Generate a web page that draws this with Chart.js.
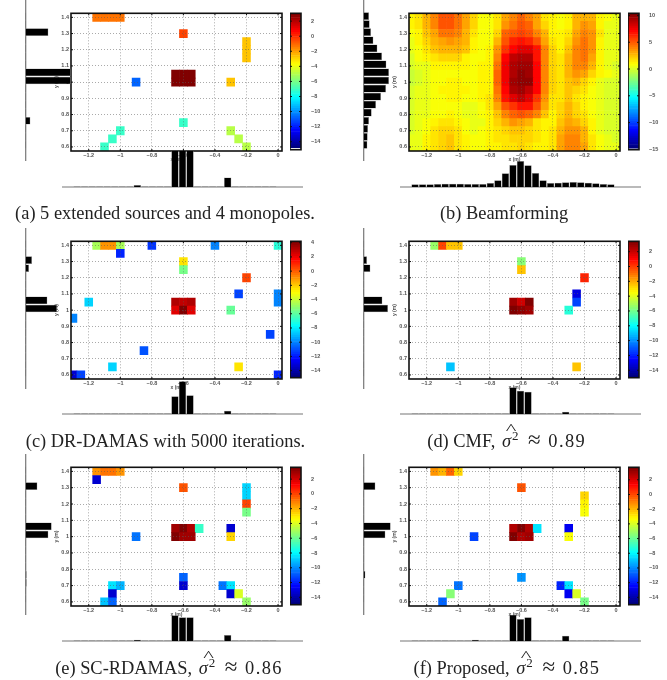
<!DOCTYPE html>
<html lang="en">
<head>
  <meta charset="UTF-8">
  <title>Source maps</title>
  <script src="https://cdn.jsdelivr.net/npm/chart.js@4/dist/chart.umd.js"></script>
  <style>
    * { margin: 0; padding: 0; box-sizing: border-box; }
    body { background: #fff; width: 667px; height: 680px; position: relative; overflow: hidden; }
    canvas { position: absolute; }
    .cap {
      position: absolute;
      transform: translate(-50%, -50%);
      white-space: nowrap;
      font-family: "Liberation Serif", serif;
      font-size: 18.4px;
      color: #222;
    }
    .cap sup { font-size: 13px; vertical-align: super; line-height: 0; margin-left: 1px; }
    .hat { position: relative; display: inline-block; margin: 0 2px; }
    .hat::before { content: "^"; position: absolute; left: 6px; top: -10px; font-size: 15px; transform: scaleX(1.5); }
    .approx { font-size: 23px; line-height: 0; margin: 0 3px; }
    .num { letter-spacing: 1.4px; }
  </style>
</head>
<body>
  <script>
    const xBins = [-1.3,-1.25,-1.2,-1.15,-1.1,-1.05,-1,-0.95,-0.9,-0.85,-0.8,-0.75,-0.7,-0.65,-0.6,-0.55,-0.5,-0.45,-0.4,-0.35,-0.3,-0.25,-0.2,-0.15,-0.1,-0.05,0];
    const yBins = [1.4,1.35,1.3,1.25,1.2,1.15,1.1,1.05,1,0.95,0.9,0.85,0.8,0.75,0.7,0.65,0.6];
    const xTickValues = [-1.2,-1,-0.8,-0.6,-0.4,-0.2,0];
    const xTickLabels = ['\u22121.2','\u22121','\u22120.8','\u22120.6','\u22120.4','\u22120.2','0'];
    const yTickValues = [1.4,1.3,1.2,1.1,1,0.9,0.8,0.7,0.6];
    const yTickLabels = ['1.4','1.3','1.2','1.1','1','0.9','0.8','0.7','0.6'];
    const barTicks = [2,0,-2,-4,-6,-8,-10,-12,-14];
    const barTicksB = [10,5,0,-5,-10,-15];
    const barTicksC = [4,2,0,-2,-4,-6,-8,-10,-12,-14];

    // cells are [x, y, dB]
    const cellsA = [
      [-1.15,1.4,-1.2],[-1.1,1.4,-1.2],[-1.05,1.4,-1.2],[-1,1.4,-1.2],
      [-0.6,1.3,-0.4],[-0.2,1.25,-2.8],[-0.2,1.2,-2.8],[-0.2,1.15,-2.8],
      [-0.65,1.05,3],[-0.6,1.05,3],[-0.55,1.05,3],[-0.65,1,3],[-0.6,1,3],[-0.55,1,3],
      [-0.9,1,-11],[-0.3,1,-2.8],[-0.6,0.75,-7.3],[-1,0.7,-7.3],[-1.05,0.65,-7.3],[-1.1,0.6,-7.3],
      [-0.3,0.7,-4.9],[-0.25,0.65,-4.9],[-0.2,0.6,-5]
    ];
    const cellsC = [
      [-1.15,1.4,-4.6],[-1.1,1.4,-1],[-1.05,1.4,-1],[-1,1.4,-4.6],[-0.8,1.4,-11.6],[-0.4,1.4,-10.2],[0,1.4,-7],
      [-1,1.35,-12],[-0.6,1.3,-2.7],[-0.6,1.25,-5.6],[-0.2,1.2,0.4],[-1.2,1.05,-8.7],[-0.25,1.1,-11.4],
      [0,1.1,-10.2],[0,1.05,-10.2],[-0.65,1.05,3.2],[-0.6,1.05,2.9],[-0.55,1.05,3.2],
      [-0.65,1,2.3],[-0.6,1,4.2],[-0.55,1,2.3],[-0.3,1,-5.8],[-1.3,0.95,-10.2],[-0.05,0.85,-11.2],
      [-0.85,0.75,-11],[-1.05,0.65,-8.5],[-0.25,0.65,-2.6],[-1.3,0.6,-13.5],[-1.25,0.6,-11.3],[0,0.6,-11.8]
    ];
    const cellsD = [
      [-1.15,1.4,-5.4],[-1.1,1.4,-0.3],[-1.05,1.4,-2.5],[-1,1.4,-2.5],
      [-0.6,1.3,-5.8],[-0.6,1.25,-2.4],[-0.2,1.2,0.3],[-0.25,1.1,-13.2],[-0.25,1.05,-11.4],[-0.3,1,-7.4],
      [-0.65,1.05,2.7],[-0.6,1.05,1.9],[-0.55,1.05,3.3],[-0.65,1,3.2],[-0.6,1,3],[-0.55,1,2.7],
      [-1.05,0.65,-9],[-0.25,0.65,-2.6]
    ];
    const cellsE = [
      [-1.15,1.4,-1.4],[-1.1,1.4,-1],[-1.05,1.4,-0.9],[-1,1.4,-1.4],[-1.15,1.35,-13.5],[-0.6,1.3,-0.3],
      [-0.2,1.3,-8.7],[-0.2,1.25,-8.7],[-0.2,1.2,-0.1],[-0.2,1.15,-5.9],
      [-0.65,1.05,2.9],[-0.6,1.05,3.4],[-0.55,1.05,2.7],[-0.5,1.05,-7.1],[-0.65,1,3.4],[-0.6,1,2.9],[-0.55,1,2.9],
      [-0.3,1.05,-13.3],[-0.3,1,-2.7],[-0.9,1,-10.6],[-0.6,0.75,-10.9],[-0.6,0.7,-13.3],
      [-1.05,0.7,-8.5],[-1,0.7,-9.2],[-1.05,0.65,-13.5],[-1.1,0.6,-9.1],[-1.05,0.6,-10.9],
      [-0.35,0.7,-10.4],[-0.3,0.7,-8.5],[-0.3,0.65,-13.3],[-0.25,0.65,-4.2],[-0.2,0.6,-5.2]
    ];
    const cellsF = [
      [-1.15,1.4,-1.3],[-1.1,1.4,-2],[-1.05,1.4,-0.5],[-1,1.4,-2.5],[-0.6,1.3,-0.1],
      [-0.2,1.25,-2.5],[-0.2,1.2,-3.2],[-0.2,1.15,-3.4],
      [-0.65,1.05,2.6],[-0.6,1.05,3.5],[-0.55,1.05,2.8],[-0.5,1.05,-8.3],[-0.65,1,3.5],[-0.6,1,2.8],[-0.55,1,3],
      [-0.3,1.05,-12.7],[-0.3,1,-3.6],[-0.9,1,-11.3],[-0.6,0.75,-10],[-1,0.7,-10.4],[-1.05,0.65,-5.6],[-1.1,0.6,-10.8],
      [-0.35,0.7,-12],[-0.3,0.7,-8.4],[-0.3,0.65,-12.8],[-0.25,0.65,-3.9],[-0.2,0.6,-5.7]
    ];
    // beamforming map, one row per yBins entry
    const beamRows = [
      [.9,1.5,2.8,4,5,5.2,4.2,3,1.8,.8,.8,1.5,3,3.8,4.5,4,3,1.5,1,.7,1,2.5,2.8,2.5,1,.5,.2],
      [.9,1.3,2.6,3.8,5,5,4.2,3,1.8,.8,.8,1.5,3.6,4.3,5,4.5,3.2,1.8,1,.8,1.2,2.8,3.4,3,1.2,.3,.2],
      [.7,1,2.2,3.2,4.2,4.3,3.8,2.8,1.5,.6,.7,1.8,4.5,5,5.5,5,4,2.5,1.2,1,1.5,3,4,3.5,1.5,.3,.1],
      [.4,1,1.8,2.8,3.2,3.4,3,2.5,1.2,.6,.8,2.8,5.2,6.2,6.8,6.4,5,3,1.4,1,1.8,3.4,4.2,3.4,1.2,.2,.1],
      [.2,.8,1.4,2.2,2.6,2.8,2.6,2.2,1,.6,1,3.6,6,7,7.8,7.8,6.5,4,1.8,1.2,2.2,3.8,4.4,3.4,1.1,.2,.1],
      [0,.5,.9,1.4,1.8,2,1.8,1.2,.8,.7,1.2,4,7,8.5,9,9,6.8,4,2,1.3,2.6,4,4.2,3,1,.2,.1],
      [-.2,.2,.4,.9,1,1,1,.9,.8,.9,1.2,4.4,7.5,9,9.6,9.5,7,4,2,1.4,2.8,3.8,3.8,2.6,.9,.2,0],
      [-.4,-.3,.2,.6,.7,.8,.8,.8,.8,.9,1.2,4.8,7.6,9,9.8,9.6,7,4,2,1.5,2.5,3.5,3,2,1,.5,.2],
      [-.4,-.3,.2,.6,.7,.9,.9,.8,.8,.9,1.2,4.8,7.5,9.4,10,9.8,7,4,2,1.5,2.4,2.6,2,1.2,.4,0,0],
      [-.1,.1,.3,.7,.9,1.1,1,.9,.8,.9,1.2,4.4,7,9,9.6,8.8,7,3.8,1.8,1.4,2.4,1.8,1.3,.8,.3,0,0],
      [0,.2,.4,.7,.8,1,.9,.7,.8,.9,1.3,3.8,6.5,8,8.6,8,6,3.4,1.6,1.6,2.4,1.6,1,.7,.2,0,0],
      [0,.2,.3,.5,.6,.8,.7,.4,.4,.8,1.3,3.2,5,6,6.8,6.5,5,3,1.4,1.8,2.6,1.8,1.2,.7,.2,0,0],
      [0,.1,.4,.7,.8,1,.7,.3,.2,.5,1.2,2.4,4,4.8,5.2,4.8,3.8,2.4,1.2,1.8,2.6,2,1.4,.8,.2,0,0],
      [0,.2,.6,1.2,1.5,1.4,1,.5,.2,.4,1,1.8,2.8,3.4,3.2,2.6,1.6,1,1.1,2.2,3,2.6,2,1,.3,0,0],
      [0,.3,.8,1.4,1.9,2,1.4,.7,.4,.6,1,1.4,2,2.4,2.4,2,1.3,1,1.4,2.6,3.5,3.4,2.5,1.2,.4,0,0],
      [.1,.4,.9,1.5,2,2.2,1.6,.9,.5,.6,1,1.3,1.6,1.8,2,1.8,1.3,1,1.6,3,3.8,3.8,2.8,1.4,.5,.1,0],
      [.1,.4,.9,1.5,2,2.2,1.6,.9,.6,.7,1,1.2,1.5,1.6,1.8,1.6,1.2,1,1.6,3,3.8,3.8,3,1.6,.5,.1,.1]
    ];

    // marginal histograms, left ones follow yBins, bottom ones follow xBins
    const leftA = [.5,.5,22.7,.5,.5,.5,.5,45,45,.5,.5,.5,.5,4.7,.5,.5,.5];
    const leftB = [5.3,6,7.3,9.7,13.7,18.3,22.7,25.3,25.3,22.3,17.3,12.3,8,5.3,4.3,4,3.7];
    const leftC = [.5,.5,6.3,3.3,.5,.5,.5,21.7,31.3,.5,.5,.5,.5,.5,.5,.5,.5];
    const leftD = [.5,.5,3.3,6.7,.5,.5,.5,18.7,24.3,.5,.5,.5,.5,.5,.5,.5,.5];
    const leftE = [.5,.5,11.7,.5,.5,.5,.5,26,22.7,.5,.5,.5,.5,1,1,.5,.5];
    const leftF = [.5,.5,11.7,.5,.5,.5,.5,27,21.7,.5,.5,.5,.5,1.7,.5,.5,.5];
    const bottomA = [.5,.5,.5,.5,.5,.5,.5,.5,2,.5,.5,.5,.5,37,37,37,.5,.5,.5,.5,9.5,.5,.5,.5,.5,.5,.5];
    const bottomB = [2.7,2.7,2.7,3,3.3,3.3,3.3,3,3,3,4,6.7,13.7,22,26,21.7,14,6.7,4,4.3,4.7,5,4.7,4.3,3.7,3,2.7];
    const bottomC = [.5,.5,.5,.5,.5,.5,.5,.5,.5,.5,.5,.5,.5,17.7,32.7,18.7,.5,.5,.5,.5,3.3,.5,.5,.5,.5,.5,.5];
    const bottomD = [.5,.5,.5,.5,.5,.5,.5,.5,.5,.5,.5,.5,.5,26.7,23.3,22.3,.5,.5,.5,.5,2.3,.5,.5,.5,.5,.5,.5];
    const bottomE = [.5,.5,.5,.5,.5,.5,.5,.5,1.3,.5,.5,.5,.5,25.7,23.7,23.7,.5,.5,.5,.5,6,.5,.5,.5,.5,.5,.5];
    const bottomF = [.5,.5,.5,.5,.5,.5,.5,.5,1.3,.5,.5,.5,.5,26.3,22,23.7,.5,.5,.5,.5,5.3,.5,.5,.5,.5,.5,.5];

    Chart.defaults.font.family = '"Liberation Sans", sans-serif';
    Chart.defaults.animation = false;
    Chart.defaults.responsive = false;
    Chart.defaults.plugins.legend.display = false;
    Chart.defaults.plugins.tooltip.enabled = false;

    const TICK_FONT = { size: 5.5, weight: 'bold' };
    const TICK_COLOR = '#555';
    const cl = v => Math.max(0, Math.min(1, v));

    function jet(f) {
      const r = cl(Math.min(4 * f - 1.5, -4 * f + 4.5));
      const g = cl(Math.min(4 * f - 0.5, -4 * f + 3.5));
      const b = cl(Math.min(4 * f + 0.5, -4 * f + 2.5));
      return `rgb(${Math.round(r * 255)},${Math.round(g * 255)},${Math.round(b * 255)})`;
    }

    function addCanvas(left, top, w, h) {
      const c = document.createElement('canvas');
      c.width = w;
      c.height = h;
      c.style.left = left + 'px';
      c.style.top = top + 'px';
      document.body.appendChild(c);
      return c;
    }

    // black box round the plot with short inward ticks
    const framePlugin = {
      id: 'frame',
      afterDraw(chart) {
        const { ctx, chartArea: a, scales } = chart;
        ctx.save();
        ctx.strokeStyle = '#111';
        ctx.lineWidth = 1;
        ctx.beginPath();
        if (scales.x.options.display) {
          xTickValues.forEach(v => {
            const px = scales.x.getPixelForValue(v);
            ctx.moveTo(px, a.top); ctx.lineTo(px, a.top + 2);
            ctx.moveTo(px, a.bottom); ctx.lineTo(px, a.bottom - 2);
          });
        }
        scales.y.ticks.forEach(t => {
          const py = scales.y.getPixelForValue(t.value);
          ctx.moveTo(a.left, py); ctx.lineTo(a.left + 2, py);
          ctx.moveTo(a.right, py); ctx.lineTo(a.right - 2, py);
        });
        ctx.stroke();
        ctx.lineWidth = 1.6;
        ctx.strokeRect(a.left, a.top, a.right - a.left, a.bottom - a.top);
        ctx.restore();
      }
    };

    // histogram axis line, sits under the bars
    const baselinePlugin = {
      id: 'baseline',
      beforeDatasetsDraw(chart) {
        const { ctx, chartArea: a, scales } = chart;
        ctx.save();
        ctx.strokeStyle = '#777';
        ctx.lineWidth = 1.2;
        ctx.beginPath();
        if (chart.options.indexAxis === 'y') {
          const px = scales.x.getPixelForValue(0);
          ctx.moveTo(px, a.top); ctx.lineTo(px, a.bottom);
        } else {
          const py = scales.y.getPixelForValue(0);
          ctx.moveTo(a.left, py); ctx.lineTo(a.right, py);
        }
        ctx.stroke();
        ctx.restore();
      }
    };

    function heatmap(p) {
      const plotW = 211, padTop = 4, padRight = 8, axisLeft = 17, axisBottom = 12;
      const canvas = addCanvas(p.col + 71 - axisLeft, p.top - padTop, axisLeft + plotW + padRight, padTop + p.height + axisBottom);
      new Chart(canvas, {
        type: 'bar',
        data: {
          datasets: [{
            data: p.cells.map(c => ({ x: c[0], y: [c[1] - 0.025, c[1] + 0.025], db: c[2] })),
            backgroundColor: ctx => {
              const f = (ctx.raw.db - p.lo) / (p.hi - p.lo);
              return jet(Math.min(63, Math.floor(f * 64)) / 63);
            },
            borderWidth: 0,
            barPercentage: 1,
            categoryPercentage: 1
          }]
        },
        options: {
          layout: { padding: { top: padTop, right: padRight, left: 0, bottom: 0 } },
          scales: {
            x: {
              type: 'linear', offset: false, min: -1.3125, max: 0.025,
              afterBuildTicks: s => { s.ticks = xTickValues.map(v => ({ value: v })); },
              afterFit: s => { s.height = axisBottom; },
              ticks: {
                autoSkip: false, maxRotation: 0, padding: 1, font: TICK_FONT, color: TICK_COLOR,
                callback: v => xTickLabels[xTickValues.indexOf(v)]
              },
              title: { display: true, text: 'x (m)', font: { size: 5, weight: 'bold' }, color: TICK_COLOR, padding: 0 },
              grid: { offset: false, color: 'rgba(90,90,90,0.65)', lineWidth: 0.8, z: 1, drawTicks: false },
              border: { display: false, dash: [1, 2] }
            },
            y: {
              type: 'linear', min: 0.575, max: 1.425,
              afterBuildTicks: s => { s.ticks = yTickValues.map(v => ({ value: v })); },
              afterFit: s => { s.width = axisLeft; },
              ticks: {
                autoSkip: false, padding: 2, font: TICK_FONT, color: TICK_COLOR,
                callback: v => yTickLabels[yTickValues.indexOf(v)]
              },
              title: { display: true, text: 'y (m)', font: { size: 5, weight: 'bold' }, color: TICK_COLOR, padding: 0 },
              grid: { color: 'rgba(90,90,90,0.65)', lineWidth: 0.8, z: 1, drawTicks: false },
              border: { display: false, dash: [1, 2] }
            }
          }
        },
        plugins: [framePlugin]
      });
    }

    function colorbar(p) {
      const padTop = 4, padBottom = 4, axisRight = 24, levels = 64;
      const canvas = addCanvas(p.col + 290, p.top - padTop, 11 + axisRight, padTop + p.height + padBottom);
      const floor = p.sliver ? p.lo - 0.06 : p.lo;
      const jetFrom = p.sliver ? p.lo + 0.12 : p.lo;
      const step = (p.hi - jetFrom) / levels;
      const sets = [{ data: [[floor, jetFrom]], backgroundColor: '#fff', barPercentage: 1, categoryPercentage: 1 }];
      for (let i = 0; i < levels; i++) {
        sets.push({
          data: [[jetFrom + i * step, jetFrom + (i + 1) * step]],
          backgroundColor: jet(i / (levels - 1)),
          barPercentage: 1,
          categoryPercentage: 1
        });
      }
      new Chart(canvas, {
        type: 'bar',
        data: { labels: [''], datasets: sets },
        options: {
          layout: { padding: { top: padTop, bottom: padBottom, left: 0, right: 0 } },
          scales: {
            x: { display: false, stacked: true },
            y: {
              position: 'right', min: floor, max: p.hi,
              afterBuildTicks: s => { s.ticks = p.ticks.map(v => ({ value: v })); },
              afterFit: s => { s.width = axisRight; },
              ticks: {
                autoSkip: false, padding: 2, font: TICK_FONT, color: TICK_COLOR,
                callback: v => String(v).replace('-', '\u2212')
              },
              grid: { display: false },
              border: { display: false }
            }
          }
        },
        plugins: [framePlugin]
      });
    }

    function leftHist(p) {
      const canvas = addCanvas(p.col + 25, p.top - 12, 46, 161);
      new Chart(canvas, {
        type: 'bar',
        data: {
          datasets: [{
            data: p.left.map((v, i) => ({ x: v, y: yBins[i] })),
            backgroundColor: '#000', borderColor: '#999', borderWidth: 0.5,
            barPercentage: 0.96, categoryPercentage: 1
          }]
        },
        options: {
          indexAxis: 'y',
          scales: {
            x: { type: 'linear', display: false, min: -0.7, max: 45.3 },
            y: { type: 'linear', offset: false, display: false, min: 0.5, max: 1.5 }
          }
        },
        plugins: [baselinePlugin]
      });
    }

    function bottomHist(p) {
      const h = p.base - (p.top + p.height) + 1;
      const canvas = addCanvas(p.col + 62, p.top + p.height, 241, h);
      new Chart(canvas, {
        type: 'bar',
        data: {
          datasets: [{
            data: p.bottom.map((v, i) => ({ x: xBins[i], y: v })),
            backgroundColor: '#000', borderColor: '#999', borderWidth: 0.5,
            barPercentage: 0.98, categoryPercentage: 1
          }]
        },
        options: {
          scales: {
            x: { type: 'linear', offset: false, display: false, min: -1.4, max: 0.2 },
            y: { type: 'linear', display: false, min: -1, max: h - 1 }
          }
        },
        plugins: [baselinePlugin]
      });
    }

    function caption(html, x, y) {
      const d = document.createElement('div');
      d.className = 'cap';
      d.style.left = x + 'px';
      d.style.top = y + 'px';
      d.innerHTML = html;
      document.body.appendChild(d);
    }

    function panel(p) {
      heatmap(p);
      colorbar(p);
      leftHist(p);
      bottomHist(p);
    }

    const beamCells = [];
    beamRows.forEach((row, r) => row.forEach((db, c) => beamCells.push([xBins[c], yBins[r], db])));

    panel({ col: 0, top: 12, height: 139, base: 187, cells: cellsA, lo: -15, hi: 3.04, ticks: barTicks, sliver: true, left: leftA, bottom: bottomA });
    panel({ col: 338, top: 12, height: 139, base: 187, cells: beamCells, lo: -15, hi: 10.4, ticks: barTicksB, sliver: true, left: leftB, bottom: bottomB });
    panel({ col: 0, top: 240, height: 139, base: 414, cells: cellsC, lo: -15, hi: 4.2, ticks: barTicksC, left: leftC, bottom: bottomC });
    panel({ col: 338, top: 240, height: 139, base: 414, cells: cellsD, lo: -15, hi: 3.4, ticks: barTicks, left: leftD, bottom: bottomD });
    panel({ col: 0, top: 466, height: 140, base: 641, cells: cellsE, lo: -15, hi: 3.6, ticks: barTicks, left: leftE, bottom: bottomE });
    panel({ col: 338, top: 466, height: 140, base: 641, cells: cellsF, lo: -15, hi: 3.7, ticks: barTicks, left: leftF, bottom: bottomF });

    const sigma = '<span class="hat"><i>\u03c3</i><sup>2</sup></span> <span class="approx">\u2248</span> ';
    const num = s => `<span class="num">${s}</span>`;
    caption('(a) 5 extended sources and 4 monopoles.', 165, 213);
    caption('(b) Beamforming', 504, 213);
    caption('(c) DR-DAMAS with 5000 iterations.', 165.5, 441);
    caption('(d) CMF, ' + sigma + num('0.89'), 506.7, 441);
    caption('(e) SC-RDAMAS, ' + sigma + num('0.86'), 169, 668);
    caption('(f) Proposed, ' + sigma + num('0.85'), 507, 668);
  </script>
</body>
</html>
